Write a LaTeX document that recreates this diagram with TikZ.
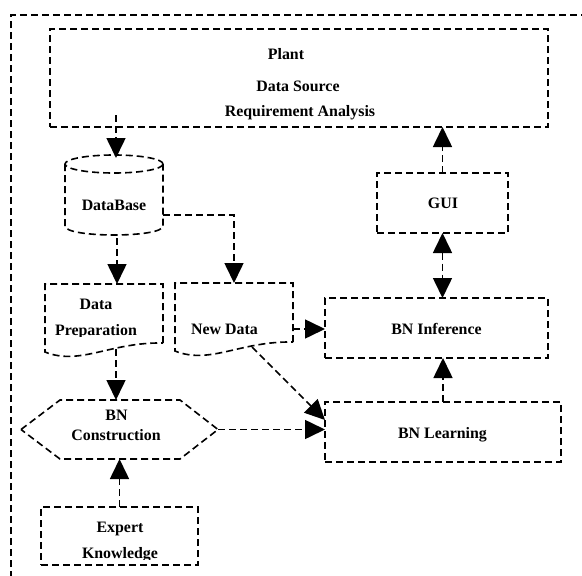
\documentclass[tikz,border=0pt]{standalone}
\usepackage{fontspec}
\setmainfont{Liberation Serif}
\usetikzlibrary{arrows.meta,calc}
\tikzset{
 dsh/.style={line width=1.6pt, dash pattern=on 7pt off 4pt},
 box/.style={dsh, draw, inner sep=0pt, outer sep=0pt},
 area/.style={inner sep=0pt, outer sep=0pt},
 lbl/.style={inner sep=0pt, anchor=base, font=\fontsize{15.9}{18}\selectfont\bfseries},
 arr/.style={dsh, -{Triangle[length=20pt,width=19pt]}},
 darr/.style={dsh, {Triangle[length=20pt,width=19pt]}-{Triangle[length=20pt,width=19pt]}},
}
\begin{document}
\begin{tikzpicture}[x=1pt,y=-1pt]
\useasboundingbox (0,0) rectangle (582,576);
\fill[white] (0,0) rectangle (582,576);
\clip (0,0) rectangle (582,576);
% outer frame
\draw[dsh] (11,600) -- (11,15) -- (600,15);

% boxes
\node[box, minimum width=498pt, minimum height=98pt] (plant) at (299,78) {};
\node[box, minimum width=131pt, minimum height=60pt] (gui) at (442.5,203) {};
\node[box, minimum width=223pt, minimum height=60pt] (bni) at (436.5,328) {};
\node[box, minimum width=236pt, minimum height=60pt] (bnl) at (443,432) {};
\node[box, minimum width=157pt, minimum height=58pt] (ek) at (119.5,536) {};

% shaped areas
\node[area, minimum width=98pt, minimum height=80pt] (db) at (114,195) {};
\node[area, minimum width=118pt, minimum height=68pt] (dp) at (104,318) {};
\node[area, minimum width=118pt, minimum height=68pt] (nd) at (234,317) {};
\node[area, minimum width=197pt, minimum height=59pt] (hex) at (119.5,429.5) {};

% cylinder
\draw[dsh] ($(db.north)+(0,9)$) ellipse [x radius=49, y radius=9];
\draw[dsh] ($(db.north west)+(0,9)$) -- ($(db.south west)+(0,-9)$)
  .. controls ($(db.south west)+(0,3)$) and ($(db.south east)+(0,3)$) .. ($(db.south east)+(0,-9)$)
  -- ($(db.north east)+(0,9)$);

% documents
\draw[dsh] ($(dp.south east)+(0,-9)$) -- (dp.north east) -- (dp.north west) -- (dp.south west)
  .. controls ($(dp.south west)+(35,14)$) and ($(dp.south west)+(65,-10)$) .. ($(dp.south east)+(0,-9)$);
\draw[dsh] ($(nd.south east)+(0,-9)$) -- (nd.north east) -- (nd.north west) -- (nd.south west)
  .. controls ($(nd.south west)+(35,14)$) and ($(nd.south west)+(65,-10)$) .. ($(nd.south east)+(0,-9)$);

% hexagon
\draw[dsh] (hex.west) -- ($(hex.north west)+(39,0)$) -- ($(hex.north east)+(-38,0)$) -- (hex.east)
  -- ($(hex.south east)+(-38,0)$) -- ($(hex.south west)+(39,0)$) -- cycle;

% labels
\node[lbl] (tplant) at (286,59) {Plant};
\node[lbl] (tsrc) at (298,91) {Data Source};
\node[lbl] (treq) at (300,116) {Requirement Analysis};
\node[lbl] (tdb) at (114,210) {DataBase};
\node[lbl] (tdata) at (96,309) {Data};
\begin{scope}
\clip (40,290) rectangle (165,336.5);
\node[lbl] (tprep) at (96,335) {Preparation};
\end{scope}
\node[lbl] (tnd) at (224.5,334) {New Data};
\node[lbl] (tgui) at (443,208) {GUI};
\node[lbl] (tbni) at (436.5,334) {BN Inference};
\node[lbl] (tbnl) at (442.5,438) {BN Learning};
\node[lbl] (tbn) at (116.5,420) {BN};
\node[lbl] (tcon) at (116,440) {Construction};
\node[lbl] (texp) at (120,532) {Expert};
\begin{scope}
\clip (40,540) rectangle (200,559.5);
\node[lbl] (tknow) at (120,558) {Knowledge};
\end{scope}

% connectors
\coordinate (p1) at (116,115);
\draw[arr] (p1) -- ([yshift=-3pt]p1 |- db.north);
\draw[arr] (gui.north) -- (gui.north |- plant.south);
\draw[darr] (gui.south) -- (gui.south |- bni.north);
\draw[arr] (bnl.north) -- (bnl.north |- bni.south);
\draw[arr] ($(db.east)+(0,20)$) -| (nd.north);
\coordinate (dbs) at ($(db.south)+(3,3)$);
\draw[arr] (dbs) -- (dbs |- dp.north);
\coordinate (dpw) at ($(dp.south)+(12,-3)$);
\draw[arr] (dpw) -- (dpw |- hex.north);
\coordinate (ndw) at ($(nd.south)+(18,-4)$);
\coordinate (bnlc) at ($(bnl.north west)+(0,18)$);
\draw[arr] (ndw) -- (bnlc);
\coordinate (ndr) at ($(nd.east)+(0,12)$);
\draw[arr] (ndr) -- (ndr -| bni.west);
\draw[arr] (hex.east) -- (hex.east -| bnl.west);
\draw[arr] (ek.north) -- (hex.south);
\end{tikzpicture}
\end{document}
